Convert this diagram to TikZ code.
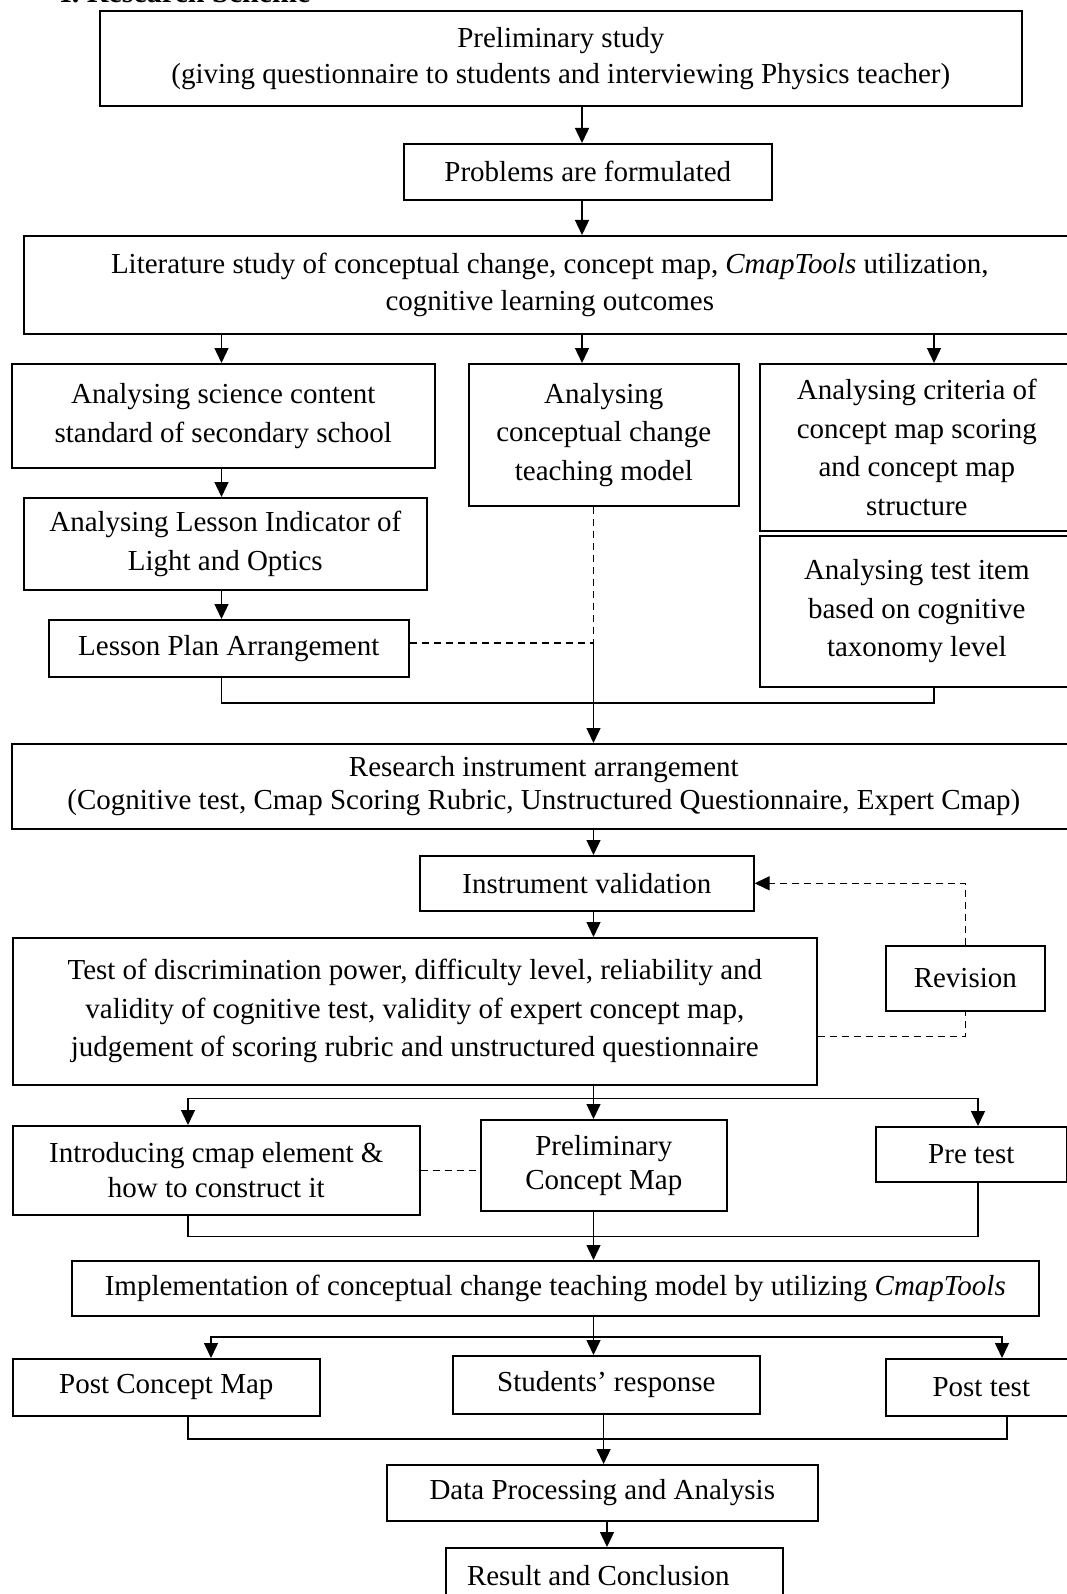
\documentclass[tikz,border=0pt]{standalone}
\usepackage{fontspec}
\setmainfont{Liberation Serif}
\usetikzlibrary{arrows.meta}
\tikzset{
  box/.style={draw, line width=1.6pt, inner sep=0pt, align=center, anchor=north west,
    font=\fontsize{29}{38.6}\selectfont},
  conn/.style={line width=1.4pt},
  arr/.style={conn, -{Triangle[length=15pt,width=14pt]}},
  dsh/.style={line width=1.4pt, dash pattern=on 7pt off 5pt},
}
\begin{document}
\begin{tikzpicture}[x=1pt,y=-1pt]
\useasboundingbox (0,0) rectangle (1067,1594);
% title (cut off at the top, as in the original)
\node[anchor=base west, inner sep=0pt, font=\fontsize{30}{36}\selectfont\bfseries] (title) at (60,3) {I. Research Scheme};
% boxes
\node[box, minimum width=922pt, minimum height=95pt, font=\fontsize{29}{36}\selectfont] (b1) at (99,10)
  {Preliminary study\\(giving questionnaire to students and interviewing Physics teacher)};
\node[box, minimum width=368pt, minimum height=56pt] (b2) at (403,143) {Problems are formulated};
\node[box, minimum width=1052pt, minimum height=98pt, font=\fontsize{29}{37}\selectfont] (b3) at (23,235)
  {Literature study of conceptual change, concept map, \textit{CmapTools} utilization,\\cognitive learning outcomes};
\node[box, minimum width=423pt, minimum height=104pt] (b4) at (11,363)
  {Analysing science content\\standard of secondary school};
\node[box, minimum width=270pt, minimum height=142pt] (b5) at (468,363)
  {Analysing\\conceptual change\\teaching model};
\node[box, minimum width=314pt, minimum height=167pt] (b6) at (759,363)
  {Analysing criteria of\\concept map scoring\\and concept map\\structure};
\node[box, minimum width=403pt, minimum height=92pt] (b7) at (23,497)
  {Analysing Lesson Indicator of\\Light and Optics};
\node[box, minimum width=360pt, minimum height=57pt] (b8) at (48,619) {Lesson Plan Arrangement};
\node[box, minimum width=314pt, minimum height=151pt] (b9) at (759,535)
  {Analysing test item\\based on cognitive\\taxonomy level};
\node[box, minimum width=1064pt, minimum height=85pt, font=\fontsize{29}{33}\selectfont] (b10) at (11,743)
  {Research instrument arrangement\\(Cognitive test, Cmap Scoring Rubric, Unstructured Questionnaire, Expert Cmap)};
\node[box, minimum width=334pt, minimum height=55pt] (b11) at (419,855) {Instrument validation};
\node[box, minimum width=804pt, minimum height=147pt] (b12) at (12,937)
  {Test of discrimination power, difficulty level, reliability and\\validity of cognitive test, validity of expert concept map,\\judgement of scoring rubric and unstructured questionnaire};
\node[box, minimum width=159pt, minimum height=65pt] (rev) at (885,945) {Revision};
\node[box, minimum width=407pt, minimum height=89pt, font=\fontsize{29}{35}\selectfont] (b13) at (12,1125)
  {Introducing cmap element \&\\how to construct it};
\node[box, minimum width=246pt, minimum height=91pt, font=\fontsize{29}{34}\selectfont] (b15) at (480,1119)
  {Preliminary\\Concept Map};
\node[box, minimum width=191pt, minimum height=55pt] (b14) at (875,1126) {Pre test};
\node[box, minimum width=967pt, minimum height=55pt] (b16) at (71,1260)
  {Implementation of conceptual change teaching model by utilizing \textit{CmapTools}};
\node[box, minimum width=307pt, minimum height=57pt] (b17) at (12,1358) {Post Concept Map};
\node[box, minimum width=307pt, minimum height=58pt] (b18) at (452,1355) {Students’ response};
\node[box, minimum width=191pt, minimum height=57pt] (b19) at (885,1358) {Post test};
\node[box, minimum width=431pt, minimum height=56pt] (b20) at (386,1464) {Data Processing and Analysis};
\node[box, minimum width=337pt, minimum height=55pt] (b21) at (445,1547) {Result and Conclusion\hspace*{32pt}};
% helper coordinates
\coordinate (xa) at (582,0);
\coordinate (xl) at (221.5,0);
\coordinate (xr) at (934,0);
\coordinate (xm) at (593.5,0);
\coordinate (j1) at (593.5,643);
\coordinate (c1) at (221.5,703);
\coordinate (c2) at (934,703);
\coordinate (d2) at (0,1036.5);
\coordinate (h1) at (593.5,1098.5);
\coordinate (hl) at (188,1098.5);
\coordinate (hr) at (978,1098.5);
\coordinate (k1) at (188,1236.7);
\coordinate (k2) at (978,1236.7);
\coordinate (h2) at (593.5,1337);
\coordinate (gl) at (211,1337);
\coordinate (gr) at (1002,1337);
\coordinate (m1) at (188,1439);
\coordinate (m2) at (1007,1439);
\coordinate (xm2) at (603.6,0);
\coordinate (xm3) at (607,0);
% connectors
\draw[arr] (b1.south -| xa) -- (b2.north -| xa);
\draw[arr] (b2.south -| xa) -- (b3.north -| xa);
\draw[arr] (b3.south -| xl) -- (b4.north -| xl);
\draw[arr] (b3.south -| xa) -- (b5.north -| xa);
\draw[arr] (b3.south -| xr) -- (b6.north -| xr);
\draw[arr] (b4.south -| xl) -- (b7.north -| xl);
\draw[arr] (b7.south -| xl) -- (b8.north -| xl);
\draw[dsh] (b5.south -| j1) -- (j1);
\draw[dsh] (b8.east |- j1) -- (j1);
\draw[conn] (b8.south -| c1) -- (c1) -- (c2) -- (b9.south -| c2);
\draw[arr] (j1) -- (b10.north -| j1);
\draw[arr] (b10.south -| xm) -- (b11.north -| xm);
\draw[dsh, -{Triangle[length=15pt,width=14pt]}] (rev.north) |- (b11.east);
\draw[arr] (b11.south -| xm) -- (b12.north -| xm);
\draw[dsh] (b12.east |- d2) -| (rev.south);
\draw[arr] (b12.south -| h1) -- (b15.north -| h1);
\draw[arr] (h1) -- (hl) -- (b13.north -| hl);
\draw[arr] (h1) -- (hr) -- (b14.north -| hr);
\draw[dsh] (b13.east) -- (b13.east -| b15.west);
\draw[conn] (b13.south -| k1) -- (k1) -- (k2) -- (b14.south -| k2);
\draw[arr] (b15.south -| xm) -- (b16.north -| xm);
\draw[arr] (b16.south -| h2) -- (b18.north -| h2);
\draw[arr] (h2) -- (gl) -- (b17.north -| gl);
\draw[arr] (h2) -- (gr) -- (b19.north -| gr);
\draw[conn] (b17.south -| m1) -- (m1) -- (m2) -- (b19.south -| m2);
\draw[arr] (b18.south -| xm2) -- (b20.north -| xm2);
\draw[arr] (b20.south -| xm3) -- (b21.north -| xm3);
\end{tikzpicture}
\end{document}
